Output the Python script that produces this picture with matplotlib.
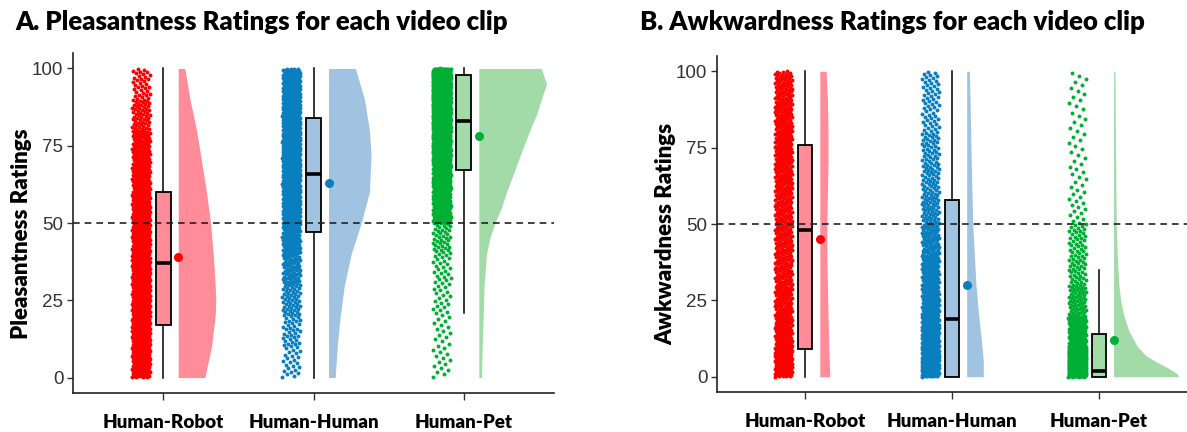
import numpy as np
import matplotlib.pyplot as plt

groups = ["Human-Robot", "Human-Human", "Human-Pet"]
point_colors = ["#FF0000", "#0A7FC0", "#00B035"]
fill_colors = ["#FF8C98", "#9FC3E0", "#A2DAA8"]

# lower edge of each 10-point rating bin
bin_lo = [0, 10, 20, 30, 40, 50, 60, 70, 80, 90]

# number of ratings per bin
pleas_hr_counts = [130, 160, 170, 160, 145, 125, 100, 80, 55, 35]
pleas_hh_counts = [25, 35, 50, 70, 100, 140, 170, 175, 165, 130]
pleas_hp_counts = [15, 15, 20, 25, 40, 150, 200, 300, 400, 500]
awk_hr_counts = [130, 80, 75, 70, 70, 70, 75, 80, 75, 70]
awk_hh_counts = [200, 130, 95, 80, 70, 55, 45, 40, 30, 30]
awk_hp_counts = [500, 120, 60, 40, 35, 15, 12, 10, 10, 10]

# box stats: whisker low, q1, median, q3, whisker high
pleas_hr_box = [0, 17, 37, 60, 100]
pleas_hh_box = [0, 47, 66, 84, 100]
pleas_hp_box = [21, 67, 83, 98, 100]
awk_hr_box = [0, 9, 48, 76, 100]
awk_hh_box = [0, 0, 19, 58, 100]
awk_hp_box = [0, 0, 2, 14, 35]

pleas_means = [39, 63, 78]
awk_means = [45, 30, 12]

# half-violin outline: rating level and width (x units)
pleas_hr_vy = [0, 5, 10, 20, 25, 30, 40, 50, 60, 70, 80, 90, 100]
pleas_hr_vw = [0.177, 0.199, 0.221, 0.246, 0.25, 0.246, 0.233, 0.215, 0.188, 0.155, 0.122, 0.078, 0.044]
pleas_hh_vy = [0, 10, 20, 30, 40, 50, 60, 72, 80, 90, 100]
pleas_hh_vw = [0.044, 0.058, 0.078, 0.106, 0.151, 0.217, 0.272, 0.283, 0.272, 0.239, 0.179]
pleas_hp_vy = [0, 10, 20, 30, 40, 45, 50, 55, 60, 70, 80, 85, 90, 95, 100]
pleas_hp_vw = [0.018, 0.022, 0.029, 0.035, 0.051, 0.073, 0.106, 0.151, 0.184, 0.261, 0.339, 0.383, 0.416, 0.45, 0.416]
awk_hr_vy = [0, 10, 20, 30, 40, 50, 60, 70, 80, 90, 100]
awk_hr_vw = [0.068, 0.061, 0.056, 0.052, 0.048, 0.048, 0.052, 0.056, 0.056, 0.052, 0.043]
awk_hh_vy = [0, 5, 10, 20, 30, 40, 50, 60, 75, 90, 100]
awk_hh_vw = [0.113, 0.113, 0.104, 0.082, 0.063, 0.052, 0.041, 0.036, 0.029, 0.023, 0.018]
awk_hp_vy = [0, 1, 3, 5, 7, 10, 15, 20, 25, 30, 40, 50, 100]
awk_hp_vw = [0.444, 0.433, 0.365, 0.286, 0.218, 0.161, 0.104, 0.07, 0.048, 0.036, 0.025, 0.018, 0.009]

W, H = 1187, 432
fig = plt.figure(figsize=(W / 100, H / 100), dpi=100)

title_font = ["Lato", "DejaVu Sans"]


def strip_points(counts):
    ys = []
    for lo, n in zip(bin_lo, counts):
        ys.extend(lo + (np.arange(n) + 0.5) * 10 / n)
    ys = np.array(ys)
    k = np.arange(len(ys))
    xs = (k * 0.6180339887) % 1.0 - 0.5
    return xs * 0.12 - 0.147, ys


def draw_panel(rect, counts, boxes, means, vys, vws, title, ylabel, title_x, ylab_x):
    l, r, t, b = rect
    ax = fig.add_axes([l / W, 1 - b / H, (r - l) / W, (b - t) / H])
    for i in range(3):
        pos = i + 1
        xs, ys = strip_points(counts[i])
        ax.scatter(pos + xs, ys, s=8, color=point_colors[i], lw=0, zorder=2)
        ax.fill_betweenx(vys[i], pos + 0.1, pos + 0.1 + np.array(vws[i]),
                         color=fill_colors[i], lw=0, zorder=1)
        st = boxes[i]
        stats = [{"whislo": st[0], "q1": st[1], "med": st[2], "q3": st[3],
                  "whishi": st[4], "fliers": []}]
        ax.bxp(stats, positions=[pos], widths=0.1, patch_artist=True,
               showcaps=False, showfliers=False,
               boxprops=dict(facecolor=fill_colors[i], edgecolor="black", lw=1.3),
               whiskerprops=dict(color="black", lw=1.1),
               medianprops=dict(color="black", lw=2.6), zorder=3)
        ax.scatter([pos + 0.1], [means[i]], s=42, color=point_colors[i], lw=0, zorder=4)
    ax.axhline(50, color="#222222", ls=(0, (4, 3)), lw=1.2, zorder=5)
    ax.set_xlim(0.4, 3.6)
    ax.set_ylim(-5, 105)
    ax.set_yticks([0, 25, 50, 75, 100])
    ax.set_xticks([1, 2, 3])
    ax.set_xticklabels(groups, fontsize=13.5, fontweight="heavy", family=title_font)
    for lab in ax.get_yticklabels():
        lab.set_family("Liberation Sans")
    ax.tick_params(axis="y", labelsize=13.5, labelcolor="#333333", length=4,
                   width=1, color="#333333", pad=3)
    ax.tick_params(axis="x", length=5, width=1, color="#333333", pad=10)
    for side in ["top", "right"]:
        ax.spines[side].set_visible(False)
    for side in ["left", "bottom"]:
        ax.spines[side].set_linewidth(1.2)
        ax.spines[side].set_color("#222222")
    fig.text(title_x / W, 1 - 22 / H, title, fontsize=18.5, fontweight="heavy",
             family=title_font, va="center", ha="left")
    fig.text(ylab_x / W, 1 - 234 / H, ylabel, fontsize=16, fontweight="heavy",
             family=title_font, rotation=90, va="center", ha="center")
    return ax


draw_panel((73, 554, 53, 393),
           [pleas_hr_counts, pleas_hh_counts, pleas_hp_counts],
           [pleas_hr_box, pleas_hh_box, pleas_hp_box], pleas_means,
           [pleas_hr_vy, pleas_hh_vy, pleas_hp_vy],
           [pleas_hr_vw, pleas_hh_vw, pleas_hp_vw],
           "A. Pleasantness Ratings for each video clip", "Pleasantness Ratings", 15, 22)

draw_panel((717, 1187, 56, 392),
           [awk_hr_counts, awk_hh_counts, awk_hp_counts],
           [awk_hr_box, awk_hh_box, awk_hp_box], awk_means,
           [awk_hr_vy, awk_hh_vy, awk_hp_vy],
           [awk_hr_vw, awk_hh_vw, awk_hp_vw],
           "B. Awkwardness Ratings for each video clip", "Awkwardness Ratings", 640, 666)

fig.savefig("out.png", dpi=100)
